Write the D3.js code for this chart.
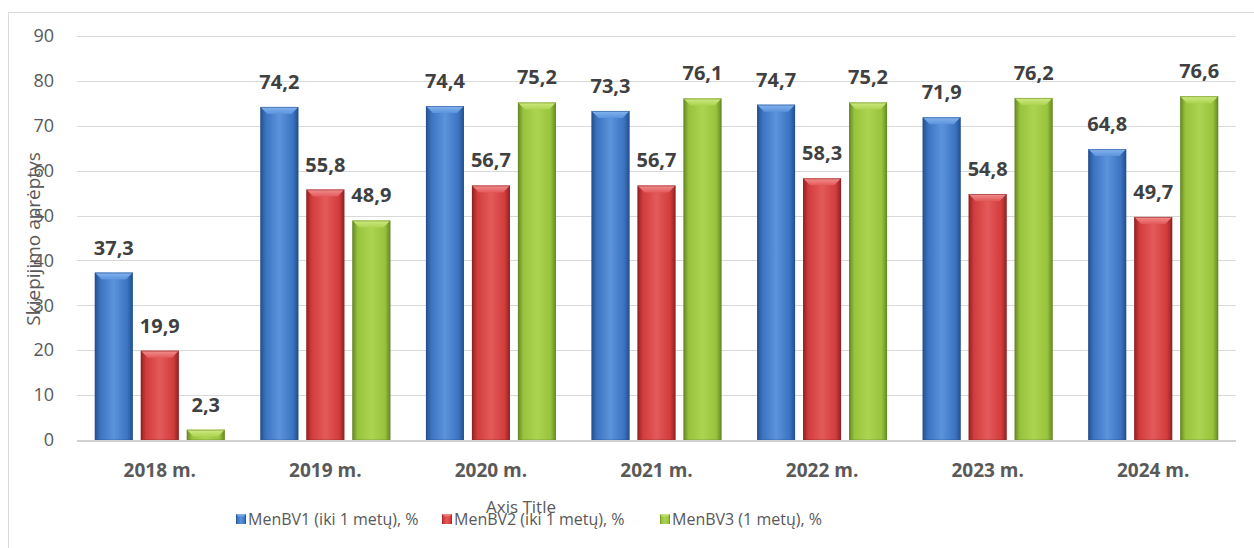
<!DOCTYPE html>
<html>
<head>
<meta charset="utf-8">
<script src="https://cdn.jsdelivr.net/npm/d3@7"></script>
<style>
  html, body { margin: 0; padding: 0; background: #fff; }
  svg { display: block; font-family: "Open Sans", Calibri, Carlito, sans-serif; }
</style>
</head>
<body>
<svg id="chart" width="1254" height="548"></svg>
<script>
// Vaccination coverage by year (%)
const years = ["2018 m.", "2019 m.", "2020 m.", "2021 m.", "2022 m.", "2023 m.", "2024 m."];
const seriesNames = ["MenBV1 (iki 1 metų), %", "MenBV2 (iki 1 metų), %", "MenBV3 (1 metų), %"];
const menbv1 = [37.3, 74.2, 74.4, 73.3, 74.7, 71.9, 64.8];
const menbv2 = [19.9, 55.8, 56.7, 56.7, 58.3, 54.8, 49.7];
const menbv3 = [2.3, 48.9, 75.2, 76.1, 75.2, 76.2, 76.6];
const yTicks = [0, 10, 20, 30, 40, 50, 60, 70, 80, 90];
const yTitle = "Skiepijimo aprėptys";
const xTitle = "Axis Title";

const seriesValues = [menbv1, menbv2, menbv3];
const palette = [
  { base: "#3a73c0", dark: "#244f8e", light: "#5c93dc", top: "#86b5f0" },
  { base: "#d23c3c", dark: "#8f2222", light: "#e35a5a", top: "#f29090" },
  { base: "#98c33c", dark: "#668826", light: "#acd452", top: "#d0ea82" }
];
const FONT = "'Open Sans', Calibri, Carlito, sans-serif";

const svg = d3.select("#chart");
const defs = svg.append("defs");

// Gradients giving each bar a rounded, bevelled look
palette.forEach((c, i) => {
  const g = defs.append("linearGradient").attr("id", "body" + i)
    .attr("x1", 0).attr("x2", 1).attr("y1", 0).attr("y2", 0);
  g.append("stop").attr("offset", "0%").attr("stop-color", c.dark);
  g.append("stop").attr("offset", "14%").attr("stop-color", c.base);
  g.append("stop").attr("offset", "50%").attr("stop-color", c.light);
  g.append("stop").attr("offset", "86%").attr("stop-color", c.base);
  g.append("stop").attr("offset", "100%").attr("stop-color", c.dark);
  const t = defs.append("linearGradient").attr("id", "top" + i)
    .attr("x1", 0).attr("x2", 0).attr("y1", 0).attr("y2", 1);
  t.append("stop").attr("offset", "0%").attr("stop-color", c.top);
  t.append("stop").attr("offset", "100%").attr("stop-color", c.light);
});

// Outer chart frame
svg.append("rect")
  .attr("x", 8.5).attr("y", 12.5).attr("width", 1400).attr("height", 700)
  .attr("fill", "none").attr("stroke", "#d9d9d9").attr("stroke-width", 1);

const plot = { left: 77, right: 1236, top: 36, bottom: 440 };

const y = d3.scaleLinear().domain([0, 90]).range([plot.bottom, plot.top]);
const x0 = d3.scaleBand().domain(years).range([plot.left, plot.right]).padding(0);
const x1 = d3.scaleBand().domain(d3.range(seriesNames.length))
  .range([0, x0.bandwidth()]).paddingInner(8 / 46).paddingOuter(0.387);

// Gridlines
svg.append("g").selectAll("line").data(yTicks.filter(d => d > 0)).join("line")
  .attr("x1", plot.left).attr("x2", plot.right)
  .attr("y1", d => Math.round(y(d)) + 0.5).attr("y2", d => Math.round(y(d)) + 0.5)
  .attr("stroke", "#d9d9d9").attr("stroke-width", 1);

// Y axis labels
const yAxis = d3.axisLeft(y).tickValues(yTicks).tickSize(0).tickPadding(0);
const yg = svg.append("g").attr("transform", `translate(${plot.left - 23},0)`).call(yAxis);
yg.select(".domain").remove();
yg.selectAll("text").attr("font-size", 18).attr("fill", "#595959")
  .attr("font-family", FONT);

// Y axis title
svg.append("text")
  .attr("transform", `translate(40,239) rotate(-90)`)
  .attr("text-anchor", "middle")
  .attr("font-size", 19).attr("fill", "#595959")
  .text(yTitle);

// Bars
const rows = [];
years.forEach((yr, ci) => seriesValues.forEach((vals, si) => rows.push({ yr, si, v: vals[ci] })));

const bars = svg.append("g").selectAll("g.bar").data(rows).join("g").attr("class", "bar");
bars.each(function (d) {
  const g = d3.select(this);
  const bx = x0(d.yr) + x1(d.si);
  const bw = x1.bandwidth();
  const by = y(d.v);
  const bh = y(0) - by;
  const c = palette[d.si];
  g.append("rect").attr("x", bx).attr("y", by).attr("width", bw).attr("height", bh)
    .attr("fill", `url(#body${d.si})`);
  const bev = Math.min(7, bh);
  g.append("path")
    .attr("d", `M${bx},${by}L${bx + bw},${by}L${bx + bw - bev},${by + bev}L${bx + bev},${by + bev}Z`)
    .attr("fill", `url(#top${d.si})`);
  g.append("rect").attr("x", bx + 0.5).attr("y", by + 0.5).attr("width", bw - 1).attr("height", bh - 0.5)
    .attr("fill", "none").attr("stroke", c.dark).attr("stroke-opacity", 0.55).attr("stroke-width", 1);
});

// Baseline
svg.append("line")
  .attr("x1", plot.left).attr("x2", plot.right)
  .attr("y1", y(0) + 1).attr("y2", y(0) + 1)
  .attr("stroke", "#d0d0d0").attr("stroke-width", 2);

// Value labels
svg.append("g").selectAll("text").data(rows).join("text")
  .attr("x", d => x0(d.yr) + x1(d.si) + x1.bandwidth() / 2)
  .attr("y", d => y(d.v) - 18)
  .attr("text-anchor", "middle")
  .attr("font-size", 20).attr("font-weight", "bold").attr("fill", "#404040")
  .text(d => d3.format(".1f")(d.v).replace(".", ","));

// X axis labels
const xAxis = d3.axisBottom(x0).tickSize(0).tickPadding(0);
const xg = svg.append("g").attr("transform", `translate(0,${plot.bottom + 23})`).call(xAxis);
xg.select(".domain").remove();
xg.selectAll("text").attr("font-size", 19).attr("font-weight", "bold").attr("fill", "#595959")
  .attr("font-family", FONT);

// X axis title
svg.append("text")
  .attr("x", 521).attr("y", 513)
  .attr("text-anchor", "middle")
  .attr("font-size", 17).attr("fill", "#595959")
  .text(xTitle);

// Legend
const legendX = [236, 442, 660];
const lg = svg.append("g").selectAll("g").data(seriesNames).join("g")
  .attr("transform", (d, i) => `translate(${legendX[i]},514)`);
lg.append("rect").attr("width", 10).attr("height", 10)
  .attr("fill", (d, i) => `url(#body${i})`);
lg.append("path").attr("d", "M0,0L10,0L7,3L3,3Z").attr("fill", (d, i) => `url(#top${i})`);
lg.append("text").attr("x", 12).attr("y", 11)
  .attr("font-size", 16).attr("fill", "#595959")
  .text(d => d);
</script>
</body>
</html>
